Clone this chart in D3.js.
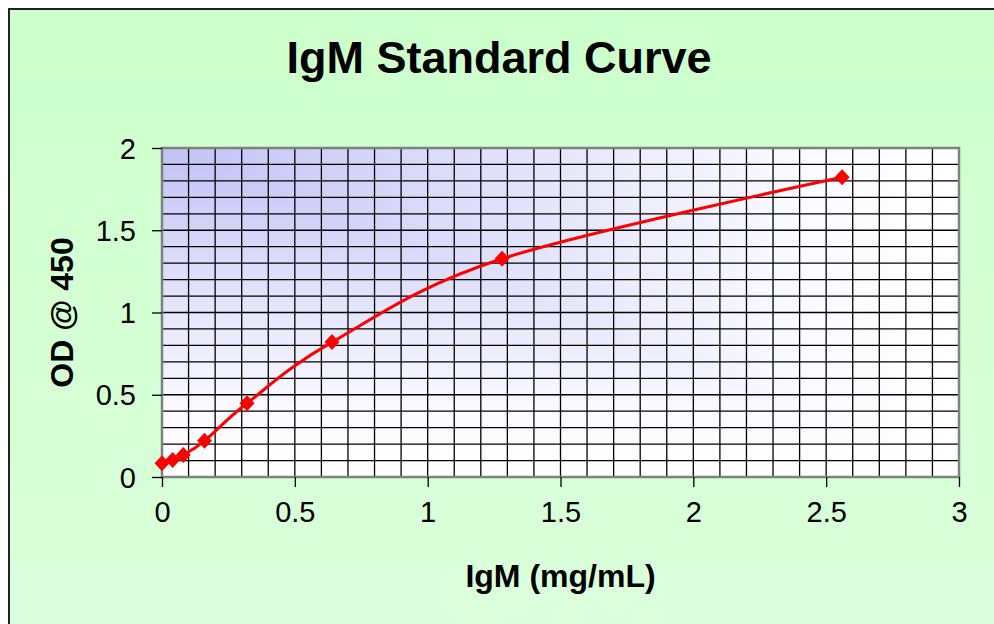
<!DOCTYPE html>
<html>
<head>
<meta charset="utf-8">
<script src="https://cdn.jsdelivr.net/npm/d3@7"></script>
<style>
  body { margin: 0; background: #fff; }
  svg text { font-family: "Liberation Sans", Arial, sans-serif; fill: #000; }
</style>
</head>
<body>
<svg id="chart" width="994" height="624"></svg>
<script>
// standard concentrations (mg/mL) and measured OD
var concentrations = [0, 0.04, 0.08, 0.16, 0.32, 0.64, 1.28, 2.56];
var odValues = [0.083, 0.103, 0.134, 0.22, 0.448, 0.82, 1.327, 1.822];
var xTicks = [0, 0.5, 1, 1.5, 2, 2.5, 3];
var yTicks = [0, 0.5, 1, 1.5, 2];

var svg = d3.select("#chart");
var defs = svg.append("defs");

var plotLeft = 162, plotRight = 959, plotTop = 148, plotBottom = 477;
var w = plotRight - plotLeft, h = plotBottom - plotTop;

var x = d3.scaleLinear().domain([0, 3]).range([plotLeft, plotRight]);
var y = d3.scaleLinear().domain([0, 2]).range([plotBottom, plotTop]);

// chart background
var bg = defs.append("linearGradient").attr("id", "bg").attr("x1", 0).attr("y1", 0).attr("x2", 0).attr("y2", 1);
bg.append("stop").attr("offset", 0).attr("stop-color", "#ccffcc");
bg.append("stop").attr("offset", 1).attr("stop-color", "#ddffdd");
svg.append("rect").attr("x", 9).attr("y", 9).attr("width", 1000).attr("height", 700)
    .attr("fill", "url(#bg)").attr("stroke", "#222").attr("stroke-width", 2);

// plot area: "from corner" gradient, built from two triangles
var stops = [[0, "#c2c2f6"], [0.5, "#e6e6fc"], [0.8, "#fafaff"], [1, "#ffffff"]];
var gh = defs.append("linearGradient").attr("id", "gh").attr("gradientUnits", "userSpaceOnUse")
    .attr("x1", plotLeft).attr("y1", 0).attr("x2", plotRight).attr("y2", 0);
var gv = defs.append("linearGradient").attr("id", "gv").attr("gradientUnits", "userSpaceOnUse")
    .attr("x1", 0).attr("y1", plotTop).attr("x2", 0).attr("y2", plotBottom);
stops.forEach(function(s) {
    gh.append("stop").attr("offset", s[0]).attr("stop-color", s[1]);
    gv.append("stop").attr("offset", s[0]).attr("stop-color", s[1]);
});
svg.append("polygon").attr("points", [[plotLeft, plotTop], [plotRight, plotTop], [plotRight, plotBottom]].join(" "))
    .attr("fill", "url(#gh)").attr("stroke", "url(#gh)").attr("stroke-width", 0.5);
svg.append("polygon").attr("points", [[plotLeft, plotTop], [plotLeft, plotBottom], [plotRight, plotBottom]].join(" "))
    .attr("fill", "url(#gv)").attr("stroke", "url(#gv)").attr("stroke-width", 0.5);

// grid every 0.1
var grid = svg.append("g").attr("stroke", "#000").attr("stroke-width", 1.3);
grid.selectAll("line.v").data(d3.range(1, 30).map(function(i) { return i / 10; }))
    .enter().append("line")
    .attr("x1", function(d) { return x(d); }).attr("x2", function(d) { return x(d); })
    .attr("y1", plotTop).attr("y2", plotBottom);
grid.selectAll("line.h").data(d3.range(1, 20).map(function(i) { return i / 10; }))
    .enter().append("line")
    .attr("y1", function(d) { return y(d); }).attr("y2", function(d) { return y(d); })
    .attr("x1", plotLeft).attr("x2", plotRight);

svg.append("rect").attr("x", plotLeft).attr("y", plotTop).attr("width", w).attr("height", h)
    .attr("fill", "none").attr("stroke", "#808080").attr("stroke-width", 2.5);

// axes
var xAxis = svg.append("g").attr("transform", "translate(0," + plotBottom + ")")
    .call(d3.axisBottom(x).tickValues(xTicks).tickSize(10).tickPadding(14).tickFormat(d3.format("")));
var yAxis = svg.append("g").attr("transform", "translate(" + plotLeft + ",0)")
    .call(d3.axisLeft(y).tickValues(yTicks).tickSize(10).tickPadding(16).tickFormat(d3.format("")));
[xAxis, yAxis].forEach(function(a) {
    a.select(".domain").remove();
    a.selectAll("text").style("font-size", "29px").attr("font-family", null);
    a.selectAll("line").attr("stroke", "#000").attr("stroke-width", 1.3);
});
xAxis.selectAll("text").attr("dy", "0.71em");
yAxis.selectAll("text").attr("dy", "0.35em");

// smoothed line + diamonds
var pts = concentrations.map(function(c, i) { return [c, odValues[i]]; });
var line = d3.line().x(function(d) { return x(d[0]); }).y(function(d) { return y(d[1]); })
    .curve(d3.curveCardinal.tension(0));
svg.append("path").datum(pts).attr("d", line)
    .attr("fill", "none").attr("stroke", "#ff0000").attr("stroke-width", 3);

svg.selectAll("path.marker").data(pts).enter().append("path")
    .attr("class", "marker")
    .attr("d", "M0,-8L7.5,0L0,8L-7.5,0Z")
    .attr("transform", function(d) { return "translate(" + x(d[0]) + "," + y(d[1]) + ")"; })
    .attr("fill", "#ff0000");

// titles
svg.append("text").attr("x", 499).attr("y", 73).attr("text-anchor", "middle")
    .style("font-size", "45px").style("font-weight", "bold").text("IgM Standard Curve");
svg.append("text").attr("x", (plotLeft + plotRight) / 2).attr("y", 587).attr("text-anchor", "middle")
    .style("font-size", "32px").style("font-weight", "bold").text("IgM (mg/mL)");
svg.append("text").attr("transform", "translate(73," + ((plotTop + plotBottom) / 2) + ") rotate(-90)")
    .attr("text-anchor", "middle")
    .style("font-size", "32px").style("font-weight", "bold").text("OD @ 450");
</script>
</body>
</html>
